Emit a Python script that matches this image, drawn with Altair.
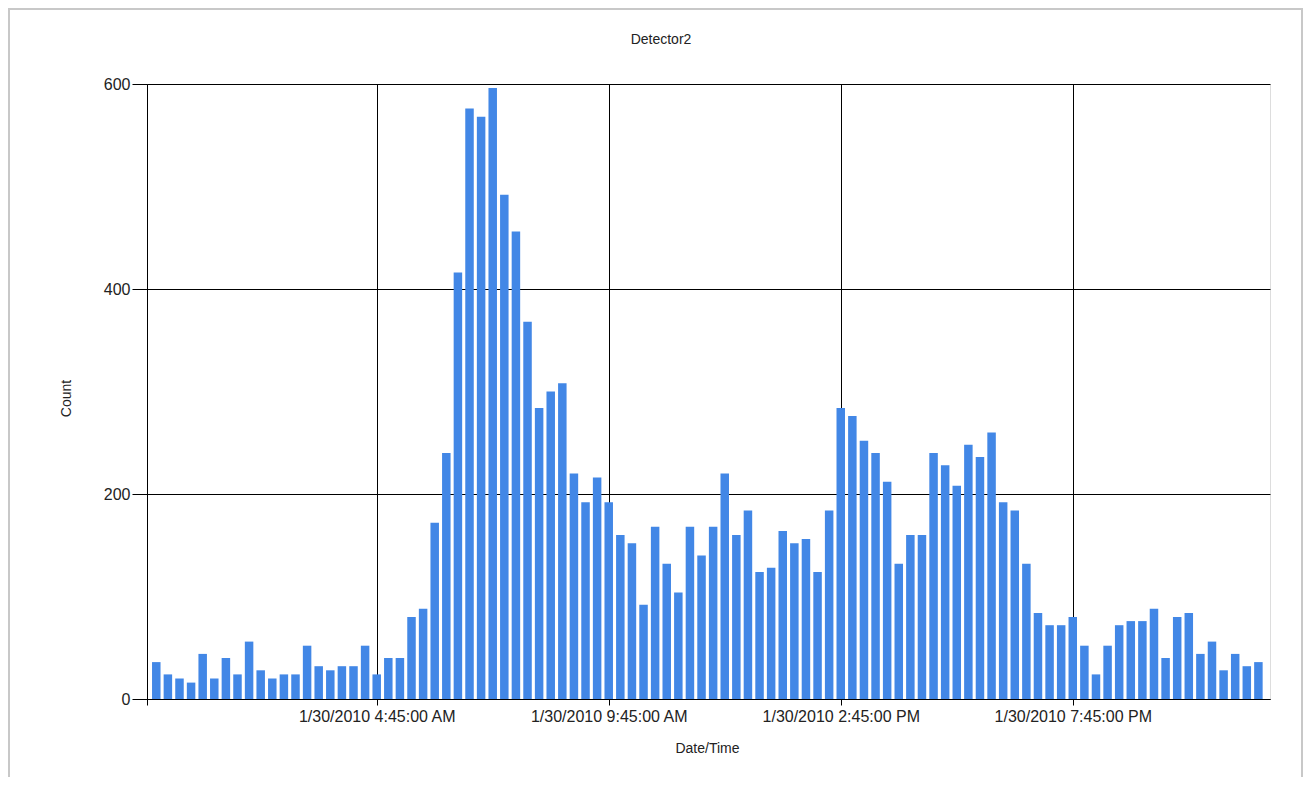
import altair as alt
import pandas as pd

# 15-minute counts for Detector2 on 1/30/2010 (00:00 .. 23:45)
COUNTS = [
    36, 24, 20, 16, 44, 20, 40, 24, 56, 28, 20, 24, 24, 52, 32, 28, 32, 32, 52, 24,
    40, 40, 80, 88, 172, 240, 416, 576, 568, 596, 492, 456, 368, 284, 300, 308, 220, 192, 216, 192,
    160, 152, 92, 168, 132, 104, 168, 140, 168, 220, 160, 184, 124, 128, 164, 152, 156, 124, 184, 284,
    276, 252, 240, 212, 132, 160, 160, 240, 228, 208, 248, 236, 260, 192, 184, 132, 84, 72, 72, 80,
    52, 24, 52, 72, 76, 76, 88, 40, 80, 84, 44, 56, 28, 44, 32, 36,
]
TIMES = [t.strftime("%Y-%m-%dT%H:%M:%SZ")
         for t in pd.date_range("2010-01-30 00:00", periods=len(COUNTS), freq="15min")]

# x tick positions (hour, minute) on 1/30/2010
TICK_HM = [(4, 45), (9, 45), (14, 45), (19, 45)]
Y_TICKS = [0, 200, 400, 600]
TITLE = "Detector2"

FONT = "Liberation Sans"
TEXT_COLOR = "#222222"

df = pd.DataFrame({"time": TIMES, "count": COUNTS})

x_start = alt.DateTime(year=2010, month=1, date=29, hours=23, minutes=48, utc=True)
x_domain = [x_start, alt.DateTime(year=2010, month=1, date=31, hours=0, minutes=0, utc=True)]
x_ticks = [x_start] + [
    alt.DateTime(year=2010, month=1, date=30, hours=h, minutes=m, utc=True) for h, m in TICK_HM
]

label_expr = (
    "datum.value < utc(2010, 0, 30) ? '' : "
    "utcFormat(datum.value, '%-m/%-d/%Y %-I:%M:%S %p')"
)

bars = alt.Chart(df).mark_bar(size=8.5, color="#4287e6").encode(
    x=alt.X(
        "time:T",
        scale=alt.Scale(type="utc", domain=x_domain, nice=False, padding=0),
        axis=alt.Axis(
            title="Date/Time",
            values=x_ticks,
            labelExpr=label_expr,
            grid=True,
            gridColor="#000000",
            gridWidth=1,
            gridOpacity=1,
            domainColor="#000000",
            domainWidth=1,
            tickColor="#000000",
            tickSize=6,
            labelPadding=3,
            labelFont=FONT,
            labelFontSize=16,
            labelColor=TEXT_COLOR,
            labelFlush=False,
            labelOverlap=False,
            titleFont=FONT,
            titleFontSize=14,
            titleFontWeight="normal",
            titleColor=TEXT_COLOR,
            titleX=560,
            titleY=49,
            titleBaseline="middle",
            titleAlign="center",
        ),
    ),
    y=alt.Y(
        "count:Q",
        scale=alt.Scale(domain=[0, 600], nice=False, padding=0),
        axis=alt.Axis(
            title="Count",
            values=Y_TICKS,
            grid=True,
            gridColor="#000000",
            gridWidth=1,
            gridOpacity=1,
            domainColor="#000000",
            domainWidth=1,
            tickColor="#000000",
            tickSize=15,
            labelPadding=2,
            labelFont=FONT,
            labelFontSize=16,
            labelColor=TEXT_COLOR,
            titleFont=FONT,
            titleFontSize=14,
            titleFontWeight="normal",
            titleColor=TEXT_COLOR,
            titleX=-81,
            titleY=314,
            titleAngle=-90,
            titleBaseline="middle",
            titleAlign="center",
        ),
    ),
)

one = pd.DataFrame({"a": [0]})

frame = alt.Chart(one).mark_rect(
    filled=False, stroke="#c8c8c8", strokeWidth=2
).encode(
    x=alt.value(-138), x2=alt.value(1155), y=alt.value(-75), y2=alt.value(760)
)

title = alt.Chart(one).mark_text(
    text=TITLE, font=FONT, fontSize=14, color=TEXT_COLOR, align="center", baseline="middle"
).encode(x=alt.value(514), y=alt.value(-44))

chart = alt.layer(frame, bars, title).properties(
    width=1123,
    height=615,
    padding={"left": 139, "top": 76, "right": 34, "bottom": 78},
    autosize=alt.AutoSizeParams(type="none"),
).configure_view(stroke=None).configure(background="#ffffff")

chart.save("out.html", embed_options={"renderer": "svg", "actions": False})
